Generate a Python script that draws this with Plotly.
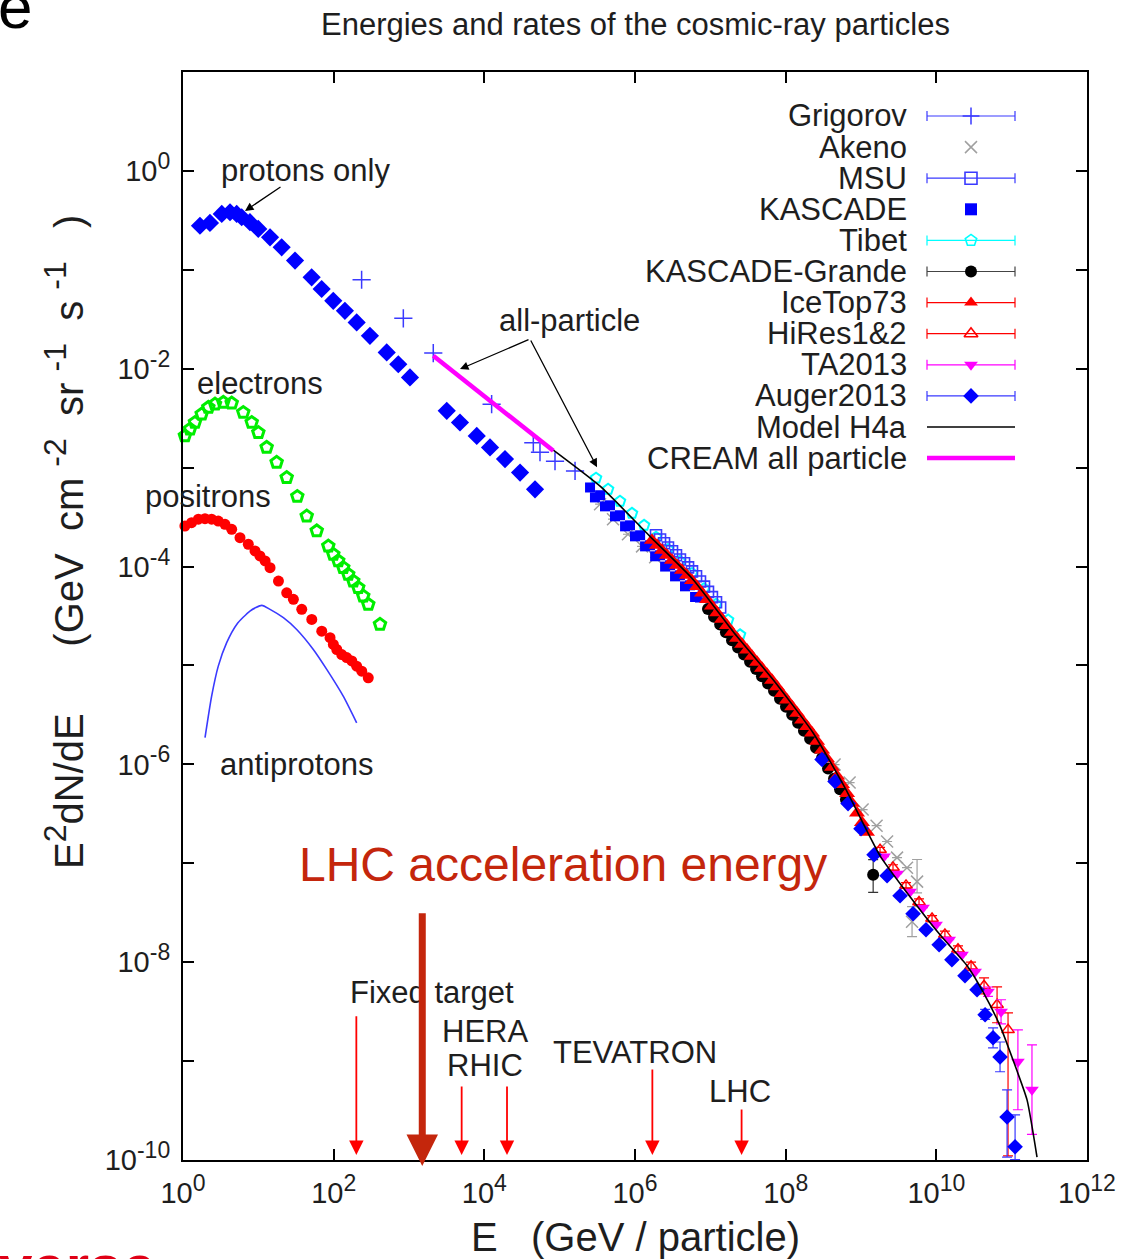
import math
import plotly.graph_objects as go

# ---------------- spectra (E in GeV, E^2 dN/dE in GeV cm^-2 sr^-1 s^-1) ----------------
proton_E = [1.68, 2.28, 3.27, 4.21, 5.16, 6.01, 7.74, 9.98, 14.3, 20.4, 30.7, 51.0, 69.3, 98.8,
            141, 202, 303, 506, 721, 1030, 3170, 4750, 7930, 1.19e4, 1.88e4, 2.98e4, 4.71e4]
proton_F = [0.279, 0.298, 0.367, 0.382, 0.367, 0.340, 0.303, 0.259, 0.213, 0.169, 0.124, 0.0839,
            0.0640, 0.0486, 0.0385, 0.0294, 0.0215, 0.0146, 0.0111, 0.00817, 0.00375, 0.00286,
            0.00209, 0.00160, 0.00122, 0.000891, 0.000604]

electron_E = [1.06, 1.24, 1.44, 1.77, 2.17, 2.66, 3.43, 4.43, 6.31, 8.17, 10.0, 12.9, 17.5, 23.8,
              32.9, 43.9, 59.6, 84.9, 98.9, 115, 134, 156, 182, 212, 247, 288, 412]
electron_F = [2.09e-3, 2.45e-3, 2.86e-3, 3.48e-3, 4.06e-3, 4.39e-3, 4.56e-3, 4.49e-3, 3.61e-3,
              2.86e-3, 2.26e-3, 1.60e-3, 1.13e-3, 7.94e-4, 5.11e-4, 3.24e-4, 2.29e-4, 1.61e-4,
              1.33e-4, 1.14e-4, 9.75e-5, 8.34e-5, 7.13e-5, 6.11e-5, 5.02e-5, 4.14e-5, 2.60e-5]

positron_E = [1.06, 1.30, 1.60, 1.96, 2.40, 2.94, 3.61, 4.43, 5.71, 7.36, 9.04, 10.5, 12.3, 14.3,
              18.5, 23.8, 29.2, 37.7, 51.2, 69.5, 89.5, 99.1, 110, 128, 149, 174, 202, 236, 288]
positron_F = [2.57e-4, 2.78e-4, 3.01e-4, 3.05e-4, 3.01e-4, 2.88e-4, 2.67e-4, 2.38e-4, 1.96e-4,
              1.68e-4, 1.44e-4, 1.28e-4, 1.14e-4, 9.73e-5, 7.13e-5, 5.43e-5, 4.66e-5, 3.69e-5,
              2.92e-5, 2.22e-5, 1.91e-5, 1.63e-5, 1.45e-5, 1.29e-5, 1.20e-5, 1.11e-5, 9.84e-6,
              8.75e-6, 7.50e-6]

antiproton_E = [1.96, 2.40, 2.94, 3.80, 5.16, 7.74, 11.1, 14.3, 21.5, 32.3, 53.7, 80.9, 134, 202]
antiproton_F = [1.86e-6, 4.89e-6, 9.84e-6, 1.70e-5, 2.60e-5, 3.55e-5, 4.05e-5, 3.69e-5, 3.04e-5,
                2.31e-5, 1.45e-5, 9.12e-6, 4.89e-6, 2.63e-6]

# ---------------- all-particle measurements ----------------
grigorov_E = [235, 841, 2100, 1.25e4, 4.47e4, 5.48e4, 8.67e4, 1.60e5]
grigorov_F = [0.0794, 0.0323, 0.0144, 0.00438, 0.00179, 0.00143, 0.00116, 0.000926]

cream_E = [2100, 1.19e4, 8.24e4]
cream_F = [0.0135, 0.00473, 0.00148]

akeno_E = [3.44e5, 5.11e5, 8.07e5, 1.24e6, 1.85e6,
           4.46e8, 7.06e8, 1.05e9, 1.61e9, 2.22e9, 3.01e9, 4.08e9, 5.55e9, 4.76e9]
akeno_F = [4.27e-4, 3.01e-4, 2.12e-4, 1.60e-4, 1.24e-4,
           9.95e-7, 6.55e-7, 3.49e-7, 2.40e-7, 1.66e-7, 1.14e-7, 9.02e-8, 6.52e-8, 2.56e-8]
akeno_err_up = [0, 0, 0, 0, 0, 0, 0, 0, 0, 0, 0, 0, 4.4e-8, 1.08e-8]
akeno_err_dn = [0, 0, 0, 0, 0, 0, 0, 0, 0, 0, 0, 0, 1.5e-8, 7.5e-9]

tibet_E = [3.04e5, 4.39e5, 6.32e5, 9.12e5, 1.32e6, 1.90e6, 2.74e6, 3.95e6, 5.71e6, 8.24e6,
           1.19e7, 1.72e7, 2.48e7]
tibet_F = [7.83e-4, 6.04e-4, 4.57e-4, 3.45e-4, 2.61e-4, 1.98e-4, 1.49e-4, 1.13e-4, 8.53e-5,
           5.97e-5, 4.15e-5, 2.88e-5, 2.04e-5]

kascade_E = [2.53e5, 2.94e5, 3.44e5, 4.00e5, 4.66e5, 5.43e5, 6.32e5, 7.38e5, 8.59e5, 1.00e6,
             1.17e6, 1.36e6, 1.58e6, 1.85e6, 2.15e6, 2.51e6, 2.92e6, 3.40e6, 3.95e6, 4.61e6,
             5.37e6, 6.27e6, 7.29e6]
kascade_F = [6.30e-4, 5.00e-4, 5.26e-4, 4.06e-4, 4.16e-4, 3.22e-4, 3.30e-4, 2.55e-4, 2.61e-4,
             2.02e-4, 2.07e-4, 1.60e-4, 1.64e-4, 1.27e-4, 1.30e-4, 1.00e-4, 1.03e-4, 7.96e-5,
             8.15e-5, 6.31e-5, 6.46e-5, 4.92e-5, 4.86e-5]

msu_E = [1.90e6, 2.15e6, 2.43e6, 2.74e6, 3.10e6, 3.50e6, 3.95e6, 4.48e6, 5.06e6, 5.71e6,
         6.46e6, 7.29e6, 8.24e6, 9.31e6, 1.05e7, 1.19e7, 1.35e7]
msu_F = [2.07e-4, 1.88e-4, 1.72e-4, 1.56e-4, 1.43e-4, 1.30e-4, 1.18e-4, 1.08e-4, 9.82e-5,
         8.93e-5, 7.98e-5, 7.06e-5, 6.27e-5, 5.55e-5, 4.91e-5, 4.36e-5, 3.85e-5]

grande_E = [9.31e6, 1.12e7, 1.35e7, 1.61e7, 1.94e7, 2.33e7, 2.80e7, 3.37e7, 4.05e7, 4.85e7,
            5.83e7, 7.01e7, 8.41e7, 1.01e8, 1.22e8, 1.46e8, 1.75e8, 2.11e8, 2.53e8, 3.04e8,
            3.65e8, 4.39e8, 5.27e8, 6.32e8, 1.45e9]
grande_F = [3.73e-5, 3.11e-5, 2.59e-5, 2.16e-5, 1.80e-5, 1.52e-5, 1.29e-5, 1.09e-5, 9.20e-6,
            7.78e-6, 6.58e-6, 5.55e-6, 4.60e-6, 3.83e-6, 3.18e-6, 2.64e-6, 2.19e-6, 1.82e-6,
            1.47e-6, 1.16e-6, 9.10e-7, 7.14e-7, 5.61e-7, 4.41e-7, 7.67e-8]
grande_err_up = [0] * 24 + [3.2e-8]
grande_err_dn = [0] * 24 + [2.6e-8]

icetop_E = [1.68e6, 1.96e6, 2.29e6, 2.66e6, 3.10e6, 3.61e6, 4.21e6, 4.90e6, 5.71e6, 6.65e6,
            7.76e6, 9.04e6, 1.05e7, 1.23e7, 1.43e7, 1.66e7, 1.94e7, 2.26e7, 2.64e7, 3.07e7,
            3.57e7, 4.17e7, 4.85e7, 5.65e7, 6.59e7, 7.67e7, 8.95e7, 1.04e8, 1.22e8, 1.42e8,
            1.65e8, 1.92e8, 2.24e8, 2.61e8, 3.04e8, 3.54e8, 4.13e8, 4.81e8, 5.60e8, 6.53e8,
            7.60e8, 8.85e8, 1.03e9, 1.20e9]
icetop_F = [1.84e-4, 1.64e-4, 1.46e-4, 1.30e-4, 1.16e-4, 1.03e-4, 9.16e-5, 8.15e-5, 7.24e-5,
            6.28e-5, 5.40e-5, 4.63e-5, 3.98e-5, 3.42e-5, 2.94e-5, 2.53e-5, 2.17e-5, 1.88e-5,
            1.64e-5, 1.43e-5, 1.24e-5, 1.08e-5, 9.38e-6, 8.15e-6, 7.08e-6, 6.08e-6, 5.22e-6,
            4.47e-6, 3.83e-6, 3.28e-6, 2.81e-6, 2.41e-6, 2.07e-6, 1.71e-6, 1.40e-6, 1.14e-6,
            9.33e-7, 7.64e-7, 6.24e-7, 5.07e-7, 4.05e-7, 3.23e-7, 2.58e-7, 2.06e-7]

hires_E = [1.79e9, 2.66e9, 3.96e9, 5.89e9, 8.77e9, 1.30e10, 1.94e10, 2.89e10, 4.30e10, 6.40e10,
           8.95e10]
hires_F = [1.37e-7, 9.06e-8, 5.98e-8, 4.06e-8, 2.76e-8, 1.91e-8, 1.35e-8, 9.10e-9, 5.77e-9,
           3.71e-9, 2.07e-9]
hires_err_up = [8e-9, 6e-9, 4e-9, 3e-9, 2e-9, 1.5e-9, 1.1e-9, 9e-10, 1.18e-9, 1.93e-9, 1.0e-9]
hires_err_dn = [8e-9, 6e-9, 4e-9, 3e-9, 2e-9, 1.5e-9, 1.1e-9, 9e-10, 9.8e-10, 1.27e-9, 1.96e-9]

ta_E = [2.02e9, 3.01e9, 4.48e9, 6.65e9, 9.91e9, 1.48e10, 2.19e10, 3.27e10, 4.85e10, 7.23e10,
        1.21e11, 1.86e11]
ta_F = [1.17e-7, 7.85e-8, 5.16e-8, 3.56e-8, 2.39e-8, 1.69e-8, 1.19e-8, 8.00e-9, 5.01e-9,
        3.15e-9, 9.82e-10, 5.12e-10]
ta_err_up = [0, 0, 0, 0, 0, 0, 0, 0, 6e-10, 1.02e-9, 1.09e-9, 9.5e-10]
ta_err_dn = [0, 0, 0, 0, 0, 0, 0, 0, 5e-10, 7.7e-10, 6.6e-10, 3.3e-10]

auger_E = [3.04e8, 4.52e8, 6.73e8, 1.00e9, 1.49e9, 2.22e9, 3.30e9, 4.91e9, 7.29e9, 1.09e10,
           1.61e10, 2.40e10, 3.47e10, 4.44e10, 5.66e10, 7.01e10, 8.69e10, 1.11e11]
auger_F = [1.12e-6, 6.70e-7, 4.01e-7, 2.24e-7, 1.22e-7, 7.48e-8, 4.70e-8, 3.09e-8, 2.13e-8,
           1.50e-8, 1.06e-8, 7.28e-9, 5.26e-9, 2.94e-9, 1.72e-9, 1.10e-9, 2.72e-10, 1.36e-10]
auger_err_up = [0] * 13 + [4e-10, 4.5e-10, 4.6e-10, 2.4e-10, 1.5e-10]
auger_err_dn = [0] * 13 + [3e-10, 3.6e-10, 3.2e-10, 1.65e-10, 3.5e-11]

model_E = [7.00e4, 3.44e5, 1.58e6, 5.89e6, 2.00e7, 6.79e7, 2.31e8, 6.32e8, 1.79e9, 4.08e9,
           1.12e10, 2.56e10, 4.17e10, 7.01e10, 1.04e11, 1.60e11, 2.17e11]
model_F = [1.65e-3, 6.49e-4, 2.02e-4, 7.41e-5, 2.21e-5, 7.21e-6, 2.09e-6, 5.56e-7, 1.19e-7,
           5.04e-8, 1.89e-8, 9.20e-9, 5.01e-9, 2.27e-9, 1.03e-9, 4.05e-10, 1.07e-10]

# accelerator reach (GeV, equivalent fixed-target energy)
accel_names = ["Fixed target", "HERA", "RHIC", "TEVATRON", "LHC"]
accel_E = [2.0e2, 5.0e3, 2.0e4, 1.7e6, 2.6e7]
lhc_beam_E = 1.5e3

SUP = "<sup><span style='font-size:23px'>%s</span></sup>"
x_ticks = [1e0, 1e2, 1e4, 1e6, 1e8, 1e10, 1e12]
x_ticktext = ["10" + SUP % p for p in ["0", "2", "4", "6", "8", "10", "12"]]
y_ticks = [10.0 ** k for k in range(-10, 1)]
y_ticktext = ["10" + SUP % k if k % 2 == 0 else "" for k in range(-10, 1)]

BLUE = "#0000ff"
LBLUE = "#3a3aff"
RED = "#ff0000"
MAG = "#ff00ff"
CYAN = "#00ffff"
GRAY = "#a0a0a0"
GREEN = "#00ee00"
FONT = "Liberation Sans, Arial, Helvetica, sans-serif"
TXT = "#1e1e1e"

fig = go.Figure()


def err(up, dn, color):
    return dict(type="data", symmetric=False, array=up, arrayminus=dn,
                color=color, thickness=1.2, width=5)


def open_marker(symbol, size, color, lw=1.6):
    return dict(symbol=symbol, size=size, color=color, line=dict(width=lw, color=color))


# low-energy species
fig.add_trace(go.Scatter(x=antiproton_E, y=antiproton_F, mode="lines",
                         line=dict(color=LBLUE, width=1.6, shape="spline", smoothing=0.6)))
fig.add_trace(go.Scatter(x=electron_E, y=electron_F, mode="markers", cliponaxis=False,
                         marker=open_marker("pentagon-open", 12, GREEN, 3)))
fig.add_trace(go.Scatter(x=positron_E, y=positron_F, mode="markers", cliponaxis=False,
                         marker=dict(symbol="circle", size=11, color=RED)))
fig.add_trace(go.Scatter(x=proton_E, y=proton_F, mode="markers",
                         marker=dict(symbol="diamond", size=14, color=BLUE)))

# all-particle data sets
fig.add_trace(go.Scatter(x=akeno_E, y=akeno_F, mode="markers",
                         error_y=err(akeno_err_up, akeno_err_dn, GRAY),
                         marker=open_marker("x-thin-open", 12, GRAY, 1.5)))
fig.add_trace(go.Scatter(x=tibet_E, y=tibet_F, mode="markers",
                         marker=open_marker("pentagon-open", 11, CYAN, 2)))
fig.add_trace(go.Scatter(x=kascade_E, y=kascade_F, mode="markers",
                         marker=dict(symbol="square", size=10, color=BLUE)))
fig.add_trace(go.Scatter(x=msu_E, y=msu_F, mode="markers",
                         marker=open_marker("square-open", 11, LBLUE, 1.6)))
fig.add_trace(go.Scatter(x=grande_E, y=grande_F, mode="markers",
                         error_y=err(grande_err_up, grande_err_dn, "#333333"),
                         marker=dict(symbol="circle", size=12, color="black")))
fig.add_trace(go.Scatter(x=icetop_E, y=icetop_F, mode="markers",
                         marker=dict(symbol="triangle-up", size=14, color=RED)))
fig.add_trace(go.Scatter(x=hires_E, y=hires_F, mode="markers",
                         error_y=err(hires_err_up, hires_err_dn, RED),
                         marker=open_marker("triangle-up-open", 11, RED, 1.5)))
fig.add_trace(go.Scatter(x=ta_E, y=ta_F, mode="markers",
                         error_y=err(ta_err_up, ta_err_dn, MAG),
                         marker=dict(symbol="triangle-down", size=12, color=MAG)))
fig.add_trace(go.Scatter(x=auger_E, y=auger_F, mode="markers",
                         error_y=err(auger_err_up, auger_err_dn, LBLUE),
                         marker=dict(symbol="diamond", size=12, color=BLUE)))
fig.add_trace(go.Scatter(x=grigorov_E, y=grigorov_F, mode="markers",
                         marker=open_marker("cross-thin-open", 13, LBLUE, 1.5)))
fig.add_trace(go.Scatter(x=model_E, y=model_F, mode="lines",
                         line=dict(color="black", width=1.6, shape="spline", smoothing=0.5)))
fig.add_trace(go.Scatter(x=cream_E, y=cream_F, mode="lines",
                         line=dict(color=MAG, width=4.5)))

# ---------------- legend (text right-aligned, sample to the right) ----------------
legend_rows = [
    ("Grigorov", open_marker("cross-thin-open", 12, LBLUE, 1.5), LBLUE, True),
    ("Akeno", open_marker("x-thin-open", 12, GRAY, 1.5), GRAY, False),
    ("MSU", open_marker("square-open", 12, LBLUE, 1.6), LBLUE, True),
    ("KASCADE", dict(symbol="square", size=12, color=BLUE), BLUE, False),
    ("Tibet", open_marker("pentagon-open", 12, CYAN, 1.6), CYAN, True),
    ("KASCADE-Grande", dict(symbol="circle", size=12, color="black"), "#444444", True),
    ("IceTop73", dict(symbol="triangle-up", size=12, color=RED), RED, True),
    ("HiRes1&2", open_marker("triangle-up-open", 12, RED, 1.6), RED, True),
    ("TA2013", dict(symbol="triangle-down", size=12, color=MAG), MAG, True),
    ("Auger2013", dict(symbol="diamond", size=12, color=BLUE), LBLUE, True),
]
row_px0, row_dpx = 116.0, 31.1
plot_top, plot_h, plot_l, plot_w = 72.0, 1088.0, 183.0, 904.0
sample_x = (971 - plot_l) / plot_w
half_bar = (1016 - 928) / 2 / plot_w
text_x = (909 - plot_l) / plot_w


def row_y(i):
    return 1 - (row_px0 + i * row_dpx - plot_top) / plot_h


annotations = []
for i, (name, mk, ecol, bars) in enumerate(legend_rows):
    tr = dict(x=[sample_x], y=[row_y(i)], mode="markers", marker=mk,
              xaxis="x2", yaxis="y2", cliponaxis=False)
    if bars:
        tr["error_x"] = dict(type="constant", value=half_bar, color=ecol, thickness=1.2, width=5)
    fig.add_trace(go.Scatter(**tr))
    annotations.append(dict(text=name, xref="paper", yref="paper", x=text_x, y=row_y(i),
                            xanchor="right", yanchor="middle", showarrow=False,
                            font=dict(size=31, color=TXT, family=FONT)))
for j, (name, col, w) in enumerate([("Model H4a", "black", 1.6), ("CREAM all particle", MAG, 4.5)]):
    i = len(legend_rows) + j
    fig.add_trace(go.Scatter(x=[sample_x - half_bar, sample_x + half_bar], y=[row_y(i), row_y(i)],
                             mode="lines", line=dict(color=col, width=w),
                             xaxis="x2", yaxis="y2", cliponaxis=False))
    annotations.append(dict(text=name, xref="paper", yref="paper", x=text_x, y=row_y(i),
                            xanchor="right", yanchor="middle", showarrow=False,
                            font=dict(size=31, color=TXT, family=FONT)))


# ---------------- labels and arrows (log-axis annotation coordinates) ----------------
def label(text, lx, ly, size=31, color=TXT):
    annotations.append(dict(text=text, x=lx, y=ly, xref="x", yref="y", showarrow=False,
                            xanchor="center", yanchor="middle",
                            font=dict(size=size, color=color, family=FONT)))


def arrow(x0, y0, x1, y1, color="black", width=1.3, head=2, hsize=1.3):
    annotations.append(dict(text="", x=x1, y=y1, ax=x0, ay=y0, xref="x", yref="y",
                            axref="x", ayref="y", showarrow=True, arrowhead=head,
                            arrowsize=hsize, arrowwidth=width, arrowcolor=color, standoff=0))


label("protons only", 1.62, 0.0)
arrow(1.314, -0.152, 0.823, -0.405)
label("all-particle", 5.124, -1.508)
arrow(4.606, -1.700, 3.677, -2.004)
arrow(4.606, -1.700, 5.496, -2.996)
label("electrons", 1.022, -2.146)
label("positrons", 0.332, -3.289)
label("antiprotons", 1.513, -6.002)

label("Fixed target", 3.305, -8.310)
label("HERA", 4.009, -8.704)
label("RHIC", 4.009, -9.049)
label("TEVATRON", 6.000, -8.917)
label("LHC", 7.394, -9.312)
arrow_tops = [-8.532, -9.241, -9.241, -9.069, -9.474]
for e, top in zip(accel_E, arrow_tops):
    arrow(math.log10(e), top, math.log10(e), -9.949, color=RED, width=1.8, head=2, hsize=1.6)

label("LHC acceleration energy", 5.044, -7.014, size=48, color="#c4260c")
arrow(math.log10(lhc_beam_E), -7.49, math.log10(lhc_beam_E), -10.06,
      color="#c4260c", width=7, head=2, hsize=0.9)

# title and axis titles
NB = "\u00a0"
annotations.append(dict(text="Energies and rates of the cosmic-ray particles", xref="paper", yref="paper",
                        x=0.5, y=1 + (72 - 25) / plot_h, xanchor="center", yanchor="middle",
                        showarrow=False, font=dict(size=31, color=TXT, family=FONT)))
annotations.append(dict(text="E" + NB * 3 + "(GeV / particle)", xref="paper", yref="paper",
                        x=0.5, y=-(1237 - 1160) / plot_h, xanchor="center", yanchor="middle",
                        showarrow=False, font=dict(size=40, color=TXT, family=FONT)))
YSUP = "<sup><span style='font-size:32px'>%s</span></sup>"
y_title = ("E" + YSUP % "2" + "dN/dE" + NB * 6 + "(GeV" + NB * 2 + "cm" + NB + YSUP % "-2"
           + NB * 2 + "sr" + NB + YSUP % "-1" + NB * 2 + "s" + NB + YSUP % "-1" + NB * 3 + ")")
annotations.append(dict(text=y_title,
                        xref="paper", yref="paper", textangle=-90,
                        x=(64 - plot_l) / plot_w, y=1 - (542 - plot_top) / plot_h,
                        xanchor="center", yanchor="middle", showarrow=False,
                        font=dict(size=40, color=TXT, family=FONT)))

# slide fragments around the figure
annotations.append(dict(text="e", xref="paper", yref="paper", x=(-4 - plot_l) / plot_w,
                        y=1 + (72 - 6) / plot_h, xanchor="left", yanchor="middle", showarrow=False,
                        font=dict(size=62, color="black", family=FONT)))
annotations.append(dict(text="<b>verse</b>", xref="paper", yref="paper", x=(-3 - plot_l) / plot_w,
                        y=-(1231 - 1160) / plot_h, xanchor="left", yanchor="top", showarrow=False,
                        font=dict(size=60, color="#e00016", family=FONT)))

axis_common = dict(type="log", showgrid=False, zeroline=False, showline=True, linecolor="black",
                   linewidth=2, mirror="allticks", ticks="inside", ticklen=11, tickwidth=1.6,
                   tickcolor="black", tickfont=dict(size=29, color=TXT, family=FONT))

fig.update_layout(
    width=1143, height=1259,
    margin=dict(l=183, r=56, t=72, b=99),
    paper_bgcolor="white", plot_bgcolor="white",
    showlegend=False,
    xaxis=dict(range=[0, 12], tickvals=x_ticks, ticktext=x_ticktext, ticklabelstandoff=6,
               **axis_common),
    yaxis=dict(range=[-10, 1], tickvals=y_ticks, ticktext=y_ticktext, ticklabelstandoff=5,
               **axis_common),
    xaxis2=dict(range=[0, 1], visible=False, overlaying="x", anchor="y2"),
    yaxis2=dict(range=[0, 1], visible=False, overlaying="y", anchor="x2"),
    annotations=annotations,
)

fig.write_html("out.html")
